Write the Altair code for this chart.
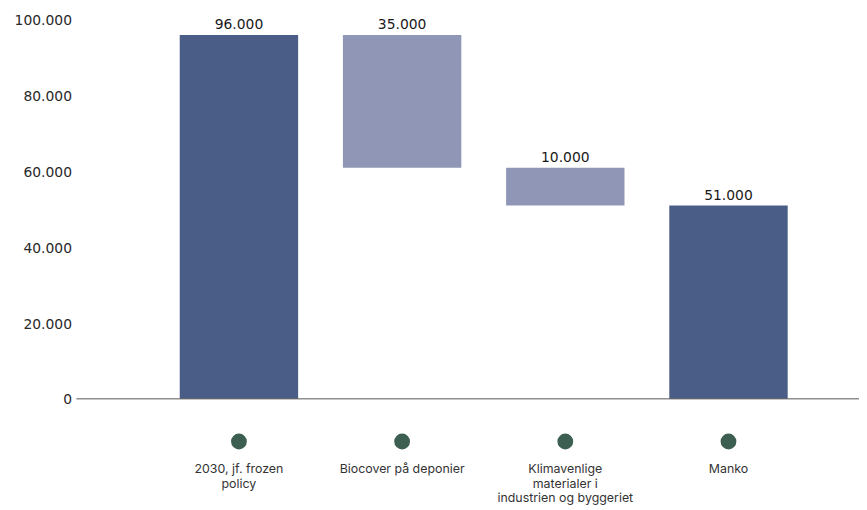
import altair as alt
import pandas as pd

categories = [
    "2030, jf. frozen policy",
    "Biocover på deponier",
    "Klimavenlige materialer i industrien og byggeriet",
    "Manko",
]
label_lines = [
    "2030, jf. frozen\npolicy",
    "Biocover på deponier",
    "Klimavenlige\nmaterialer i\nindustrien og byggeriet",
    "Manko",
]
values = [96000, 35000, 10000, 51000]
kinds = ["total", "decrease", "decrease", "total"]
value_labels = ["96.000", "35.000", "10.000", "51.000"]
y_ticks = [0, 20000, 40000, 60000, 80000, 100000]

DARK = "#4a5d87"
LIGHT = "#9097b6"
GREEN = "#3d5f51"
NUM_FONT = "DejaVu Sans"
FONT = "Inter"

starts, ends = [], []
running = 0
for v, k in zip(values, kinds):
    if k == "total":
        s, e = 0, v
        running = v
    else:
        s, e = running - v, running
        running = s
    starts.append(s)
    ends.append(e)

df = pd.DataFrame({
    "cat": categories,
    "line": label_lines,
    "start": starts,
    "end": ends,
    "kind": kinds,
    "label": value_labels,
})
zero = pd.DataFrame({"v": [0]})

xenc = alt.X(
    "cat:N",
    sort=categories,
    axis=None,
    scale=alt.Scale(paddingInner=0.2744, paddingOuter=0.535, align=0.5916),
)
yscale = alt.Scale(domain=[0, 100000], nice=False)

base = alt.Chart(df)

bars = base.mark_bar().encode(
    x=xenc,
    y=alt.Y(
        "start:Q",
        scale=yscale,
        axis=alt.Axis(
            values=y_ticks,
            labelExpr="replace(format(datum.value, ','), ',', '.')",
            ticks=False,
            domain=False,
            grid=False,
            labelFontSize=14,
            labelFont=NUM_FONT,
            labelColor="#2a2a2a",
            labelPadding=5,
            labelOffset=1,
            title=None,
        ),
    ),
    y2="end:Q",
    color=alt.Color(
        "kind:N",
        scale=alt.Scale(domain=["total", "decrease"], range=[DARK, LIGHT]),
        legend=None,
    ),
)

bar_text = base.mark_text(
    baseline="alphabetic", dy=-6, fontSize=14, font=NUM_FONT, color="#1a1a1a"
).encode(x=xenc, y=alt.Y("end:Q", scale=yscale), text="label:N")

baseline = alt.Chart(zero).mark_rule(color="#555555", strokeWidth=1).encode(
    y=alt.Y("v:Q", scale=yscale)
)

dots = base.mark_circle(size=254, color=GREEN, opacity=1).encode(
    x=xenc, y=alt.value(425)
)

cat_text = base.mark_text(
    baseline="alphabetic",
    lineBreak="\n",
    lineHeight=14.5,
    fontSize=12.5,
    font=FONT,
    color="#333333",
).encode(x=xenc, y=alt.value(457), text="line:N")

chart = (
    alt.layer(bars, baseline, bar_text, dots, cat_text)
    .properties(
        width=789,
        height=382,
        autosize=alt.AutoSizeParams(type="none"),
        padding={"left": 69, "top": 10, "right": 0, "bottom": 110},
    )
    .configure_view(stroke=None)
)

chart.save("out.html", embed_options={"renderer": "svg", "actions": False})
